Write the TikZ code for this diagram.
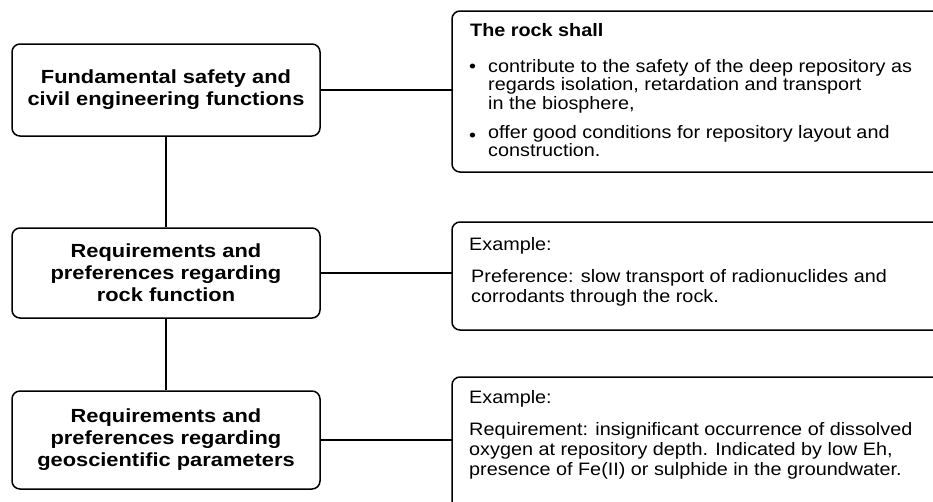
\documentclass[tikz,border=0pt]{standalone}
\usepackage{fontspec}
\setmainfont{Liberation Sans}[FakeStretch=1.1]
\newfontfamily\headf{Liberation Sans}[FakeStretch=1.15]
\begin{document}
\begin{tikzpicture}[x=1pt,y=-1pt,
  lbox/.style={draw, line width=1.5pt, rounded corners=8pt, minimum width=308pt,
    align=center, inner sep=0pt, font=\headf\bfseries\fontsize{19}{22}\selectfont},
  rframe/.style={draw=none, inner sep=0pt, outer sep=0pt, anchor=north west},
  frame/.style={line width=1.5pt, rounded corners=8pt},
  conn/.style={line width=1.2pt},
  txt/.style={anchor=base west, inner sep=0pt, align=left, font=\fontsize{18}{18.5}\selectfont},
  txtw/.style={txt, font=\fontsize{18}{20}\selectfont}]
\useasboundingbox[fill=white] (0,0) rectangle (933,501);

% left boxes
\node[lbox, minimum height=92pt] (b1) at (166,90) {Fundamental safety and\\civil engineering functions};
\node[lbox, minimum height=90pt] (b2) at (166,273) {Requirements and\\preferences regarding\\rock function};
\node[lbox, minimum height=98pt] (b3) at (166,440) {Requirements and\\preferences regarding\\geoscientific parameters};

% right frames (open to the right)
\node[rframe, minimum width=481pt, minimum height=161pt] (r1) at (452,11) {};
\node[rframe, minimum width=481pt, minimum height=108pt] (r2) at (452,222) {};
\node[rframe, minimum width=481pt, minimum height=130pt] (r3) at (452,377) {};
\draw[frame] (r1.north east) -- (r1.north west) -- (r1.south west) -- (r1.south east);
\draw[frame] (r2.north east) -- (r2.north west) -- (r2.south west) -- (r2.south east);
\draw[frame] (r3.north east) -- (r3.north west) -- (r3.south west);

% connectors
\draw[conn] (b1.south) -- (b2.north);
\draw[conn] (b2.south) -- (b3.north);
\draw[conn] (b1.east) -- (b1.east -| r1.west);
\draw[conn] (b2.east) -- (b2.east -| r2.west);
\draw[conn] (b3.east) -- (b3.east -| r3.west);

% texts of frame 1 (multi-line nodes are placed by the baseline of their last line)
\node[txt] (t1) at (470,36) {\bfseries The rock shall};
\node[txt] (bu1) at (469,72) {•};
\node[txt] (t2) at (488,109) {contribute to the safety of the deep repository as\\regards isolation, retardation and transport\\in the biosphere,};
\node[txt] (bu2) at (469,137) {\raisebox{-4pt}{•}};
\node[txt] (t3) at (488,156.5) {offer good conditions for repository layout and\\construction.};

% texts of frame 2
\node[txt] (t4) at (469,250) {Example:};
\node[txtw] (t5) at (471,302) {Preference: slow transport of radionuclides and\\corrodants through the rock.};

% texts of frame 3
\node[txt] (t6) at (469,403) {Example:};
\node[txtw] (t7) at (469,475) {Requirement: insignificant occurrence of dissolved\\oxygen at repository depth. Indicated by low Eh,\\presence of Fe(II) or sulphide in the groundwater.};
\end{tikzpicture}
\end{document}
